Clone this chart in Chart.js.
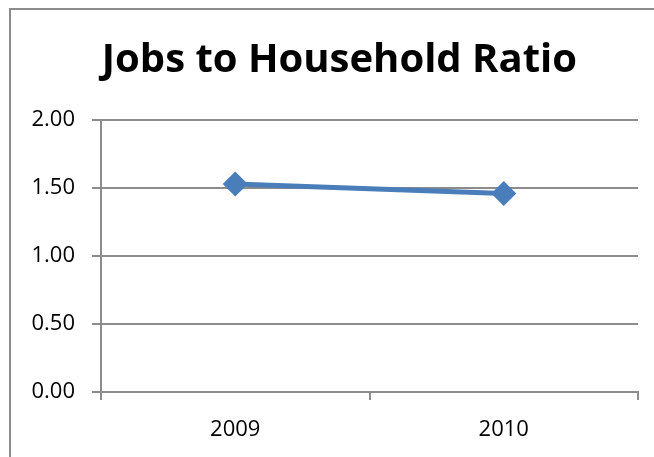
<!DOCTYPE html>
<html>
<head>
<meta charset="utf-8">
<script src="https://cdn.jsdelivr.net/npm/chart.js@4"></script>
<style>
  html, body { margin: 0; padding: 0; background: #fff; }
  #wrap { position: relative; width: 654px; height: 457px; overflow: hidden; }
  #frame { position: absolute; left: 9px; top: 8px; width: 700px; height: 500px; border: 2px solid #8c8c8c; box-sizing: border-box; }
  #chart-box { position: absolute; left: 0; top: 0; width: 654px; height: 457px; }
</style>
</head>
<body>
<div id="wrap">
  <div id="frame"></div>
  <div id="chart-box"><canvas id="ratio-chart"></canvas></div>
</div>
<script>
const years = ['2009', '2010'];
const ratioValues = [1.53, 1.46];
const yTicks = [0, 0.5, 1.0, 1.5, 2.0];

const ctx = document.getElementById('ratio-chart').getContext('2d');

new Chart(ctx, {
    type: 'line',
    data: {
        labels: years,
        datasets: [{
            label: 'Jobs to Household Ratio',
            data: ratioValues,
            borderColor: '#4a7ebb',
            backgroundColor: '#4a7ebb',
            borderWidth: 5,
            pointStyle: 'rectRot',
            pointRadius: 9,
            pointHoverRadius: 9,
            tension: 0
        }]
    },
    options: {
        responsive: true,
        maintainAspectRatio: false,
        animation: false,
        layout: { padding: { left: 20, right: 16, top: 0, bottom: 0 } },
        plugins: {
            legend: { display: false },
            tooltip: { enabled: false },
            title: {
                display: true,
                // leading spaces nudge the centred title right, like the original
                text: '\u00a0\u00a0Jobs to Household Ratio',
                color: '#000',
                font: { family: 'Open Sans', size: 40, weight: 'bold', lineHeight: 1.2 },
                padding: { top: 37, bottom: 35 }
            }
        },
        scales: {
            y: {
                min: 0,
                max: 2,
                afterBuildTicks: (axis) => { axis.ticks = yTicks.map(v => ({ value: v })); },
                afterFit: (axis) => { axis.width = 81; },
                border: { display: true, color: '#8c8c8c', width: 2 },
                grid: { color: '#8c8c8c', lineWidth: 2, tickLength: 9 },
                ticks: {
                    color: '#000',
                    padding: 17,
                    font: { family: 'Open Sans', size: 22 },
                    callback: (v) => Number(v).toFixed(2)
                }
            },
            x: {
                offset: true,
                afterFit: (axis) => { axis.height = 65; },
                border: { display: true, color: '#8c8c8c', width: 2 },
                grid: { offset: true, drawOnChartArea: false, color: '#8c8c8c', lineWidth: 2, tickLength: 8 },
                ticks: {
                    color: '#000',
                    padding: 17,
                    font: { family: 'Open Sans', size: 22 }
                }
            }
        }
    }
});
</script>
</body>
</html>
